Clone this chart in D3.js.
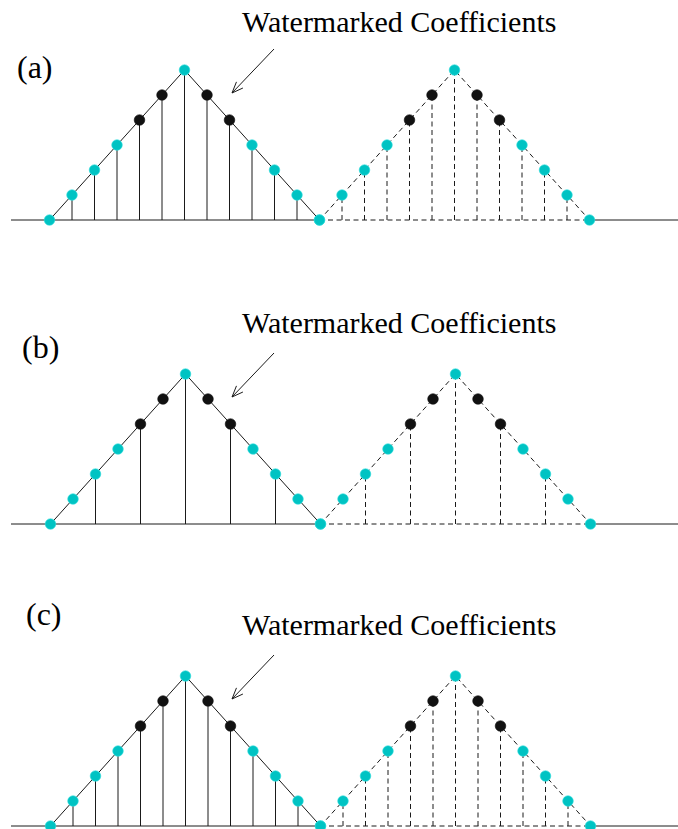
<!DOCTYPE html>
<html>
<head>
<meta charset="utf-8">
<script src="https://cdn.jsdelivr.net/npm/d3@7/dist/d3.min.js"></script>
<style>
  html, body { margin: 0; padding: 0; background: #fff; }
  svg { display: block; }
  .serif { font-family: "Liberation Serif", "Times New Roman", Times, "DejaVu Serif", serif; }
</style>
</head>
<body>
<div id="chart"></div>
<script>
// ---- data ----
const panelLabels = ["(a)", "(b)", "(c)"];
const annotationText = "Watermarked Coefficients";
// sample positions along each triangle (0..12)
const sampleIndex = [0, 1, 2, 3, 4, 5, 6, 7, 8, 9, 10, 11, 12];
// coefficient magnitudes (triangle shape)
const coefficientValues = [0, 1, 2, 3, 4, 5, 6, 5, 4, 3, 2, 1, 0];
// 1 = black (watermarked) dot, 0 = cyan dot
const watermarkedFlags = [0, 0, 0, 0, 1, 1, 0, 1, 1, 0, 0, 0, 0];
// which samples carry a stem in each panel
const stemsA = [1, 2, 3, 4, 5, 6, 7, 8, 9, 10, 11];
const stemsB = [2, 4, 6, 8, 10];
const stemsC = [1, 2, 3, 4, 5, 6, 7, 8, 9, 10, 11];
const panelStems = [stemsA, stemsB, stemsC];

// ---- layout ----
const W = 678, H = 829;
const panels = [
  { base: 220, x0: 49.5, textY: 32, labelX: 17, labelY: 78 },
  { base: 524, x0: 50.5, textY: 333, labelX: 22, labelY: 358 },
  { base: 826, x0: 50.5, textY: 635, labelX: 26, labelY: 625 }
];
const step = 22.5;
const cyan = "#00c3c3";
const ink = "#1a1a1a";

const svg = d3.select("#chart").append("svg")
  .attr("width", W).attr("height", H);

panels.forEach((p, pi) => {
  const g = svg.append("g");
  const x = d3.scaleLinear().domain([0, 24]).range([p.x0, p.x0 + 24 * step]);
  const y = d3.scaleLinear().domain([0, 6]).range([p.base, p.base - 150]);

  const triangles = [
    { offset: 0, dash: null },
    { offset: 12, dash: "5,3.5" }
  ];

  // baseline
  g.append("line").attr("x1", 11).attr("x2", x(12))
    .attr("y1", y(0)).attr("y2", y(0))
    .attr("stroke", ink).attr("stroke-width", 1);
  g.append("line").attr("x1", x(12)).attr("x2", x(24))
    .attr("y1", y(0)).attr("y2", y(0))
    .attr("stroke", ink).attr("stroke-width", 1).attr("stroke-dasharray", "5,3.5");
  g.append("line").attr("x1", x(24)).attr("x2", W)
    .attr("y1", y(0)).attr("y2", y(0))
    .attr("stroke", ink).attr("stroke-width", 1);

  const line = d3.line().x(d => x(d[0])).y(d => y(d[1]));

  triangles.forEach(t => {
    const pts = sampleIndex.map((s, i) => [s + t.offset, coefficientValues[i]]);
    g.append("path").attr("d", line(pts))
      .attr("fill", "none").attr("stroke", ink).attr("stroke-width", 1)
      .attr("stroke-dasharray", t.dash);

    // stems
    g.selectAll(null).data(panelStems[pi]).enter().append("line")
      .attr("x1", s => x(s + t.offset)).attr("x2", s => x(s + t.offset))
      .attr("y1", y(0)).attr("y2", s => y(coefficientValues[s]))
      .attr("stroke", ink).attr("stroke-width", 1)
      .attr("stroke-dasharray", t.dash);
  });

  // dots
  triangles.forEach(t => {
    g.selectAll(null).data(sampleIndex).enter().append("circle")
      .attr("cx", s => x(s + t.offset))
      .attr("cy", s => y(coefficientValues[s]))
      .attr("r", 5.3)
      .attr("fill", s => watermarkedFlags[s] ? "#111" : cyan)
      .attr("stroke", s => watermarkedFlags[s] ? "#111" : "#33dddd")
      .attr("stroke-width", 0.6);
  });

  // panel label
  g.append("text").attr("class", "serif")
    .attr("x", p.labelX).attr("y", p.labelY)
    .attr("font-size", 32).attr("fill", "#000")
    .text(panelLabels[pi]);

  // annotation text
  g.append("text").attr("class", "serif")
    .attr("x", 242).attr("y", p.textY)
    .attr("font-size", 30).attr("fill", "#000")
    .text(annotationText);

  // arrow
  const ax1 = 274, ay1 = p.base - 171, ax2 = 232, ay2 = p.base - 127;
  g.append("line").attr("x1", ax1).attr("y1", ay1).attr("x2", ax2).attr("y2", ay2)
    .attr("stroke", ink).attr("stroke-width", 1);
  const ang = Math.atan2(ay2 - ay1, ax2 - ax1);
  const hl = 12, spread = 0.38;
  const h1 = [ax2 - hl * Math.cos(ang - spread), ay2 - hl * Math.sin(ang - spread)];
  const h2 = [ax2 - hl * Math.cos(ang + spread), ay2 - hl * Math.sin(ang + spread)];
  g.append("path")
    .attr("d", `M${h1[0]},${h1[1]}L${ax2},${ay2}L${h2[0]},${h2[1]}`)
    .attr("fill", "none").attr("stroke", ink).attr("stroke-width", 1);
});
</script>
</body>
</html>
